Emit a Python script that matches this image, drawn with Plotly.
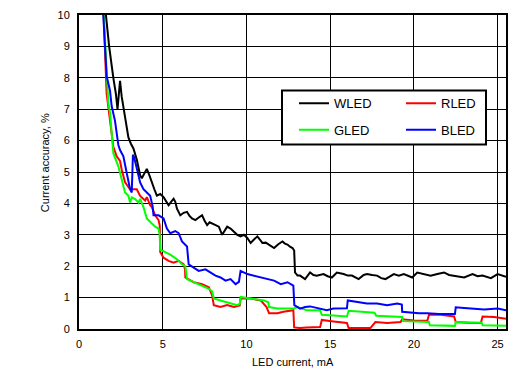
import plotly.graph_objects as go

# ---- data (LED current mA, accuracy %) ----
wled = [(1.55,10.3),(1.6,10.0),(1.8,9.0),(2.05,8.0),(2.2,7.5),(2.3,7.0),(2.38,7.6),(2.45,7.9),(2.55,7.4),(2.75,6.8),
        (2.95,6.1),(3.1,5.9),(3.25,5.75),(3.45,5.4),(3.65,4.9),(3.75,4.8),(3.9,4.95),(4.05,5.1),(4.2,4.9),(4.35,4.65),
        (4.5,4.45),(4.65,4.25),(4.85,4.3),(5.05,4.2),(5.2,4.05),(5.35,3.94),(5.5,4.05),(5.65,4.15),(5.75,4.05),(5.85,3.83),
        (6.05,3.62),(6.25,3.7),(6.45,3.73),(6.6,3.6),(6.75,3.52),(6.95,3.47),(7.15,3.55),(7.35,3.62),(7.5,3.45),(7.65,3.31),
        (7.8,3.4),(7.95,3.36),(8.15,3.3),(8.35,3.26),(8.55,3.0),(8.7,3.15),(8.85,3.26),(9.05,3.2),(9.25,3.1),(9.45,3.0),
        (9.65,2.95),(9.85,3.0),(10.05,2.9),(10.25,2.74),(10.45,2.85),(10.65,2.95),(10.8,2.85),(10.95,2.74),(11.15,2.75),(11.35,2.69),
        (11.5,2.65),(11.65,2.58),(11.9,2.7),(12.15,2.79),(12.3,2.72),(12.45,2.69),(12.6,2.62),(12.75,2.58),(12.85,2.5),(12.9,1.8),
        (13.05,1.7),(13.2,1.7),(13.5,1.59),(13.8,1.8),(14.0,1.72),(14.2,1.7),(14.6,1.75),(14.85,1.68),(15.1,1.64),(15.4,1.8),
        (15.8,1.75),(16.05,1.7),(16.3,1.7),(16.7,1.59),(17.0,1.72),(17.2,1.75),(17.5,1.72),(17.8,1.7),(18.05,1.62),(18.3,1.59),
        (18.8,1.75),(19.1,1.7),(19.4,1.75),(19.9,1.64),(20.2,1.8),(20.6,1.74),(21.0,1.7),(21.4,1.75),(21.8,1.8),(22.1,1.72),
        (22.4,1.7),(23.0,1.64),(23.5,1.75),(23.8,1.68),(24.1,1.7),(24.6,1.62),(25.0,1.75),(25.5,1.66)]

rled = [(1.45,10.3),(1.55,9.2),(1.6,8.2),(1.65,7.5),(1.85,6.63),(1.95,6.2),(2.05,5.8),(2.25,5.5),(2.45,5.35),(2.55,5.08),
        (2.75,4.67),(3.05,4.45),(3.45,4.45),(3.65,4.24),(3.95,4.09),(4.05,4.2),(4.25,3.94),(4.35,3.88),(4.55,3.62),(4.75,3.47),
        (4.82,3.3),(4.85,2.45),(5.05,2.27),(5.35,2.17),(5.65,2.11),(5.95,2.17),(6.25,2.06),(6.33,1.9),(6.35,1.64),(6.85,1.49),
        (7.35,1.43),(7.75,1.33),(7.95,1.07),(8.05,0.76),(8.45,0.7),(8.85,0.76),(9.25,0.7),(9.6,0.75),(9.65,0.97),(10.25,0.97),
        (10.85,0.91),(11.2,0.7),(11.35,0.5),(11.85,0.5),(12.2,0.55),(12.8,0.6),(12.85,0.05),(13.2,0.03),(13.6,0.05),(14.4,0.06),
        (14.5,0.29),(15.2,0.24),(16.0,0.19),(16.1,0.03),(17.4,0.03),(17.7,0.22),(18.4,0.19),(19.2,0.22),(19.3,0.31),(20.0,0.27),
        (20.8,0.26),(20.9,0.45),(21.6,0.45),(22.4,0.4),(22.5,0.22),(23.2,0.2),(24.0,0.19),(24.1,0.4),(24.8,0.38),(25.5,0.33)]

gled = [(1.45,10.3),(1.55,9.3),(1.6,8.57),(1.7,7.73),(1.75,7.2),(1.85,6.9),(1.95,6.33),(2.05,5.6),(2.35,5.18),(2.55,4.76),
        (2.75,4.35),(2.95,4.24),(3.05,4.03),(3.15,4.19),(3.35,4.14),(3.55,4.03),(3.65,4.14),(3.85,3.88),(4.05,3.52),(4.35,3.36),
        (4.55,3.26),(4.75,3.2),(4.82,3.0),(4.85,2.53),(5.05,2.48),(5.45,2.37),(5.85,2.22),(6.15,2.06),(6.35,2.0),(6.45,1.59),
        (6.85,1.49),(7.35,1.38),(7.75,1.28),(7.95,1.2),(8.05,0.97),(8.45,0.91),(9.05,0.81),(9.45,0.76),(9.6,0.8),(9.65,1.02),
        (10.25,0.97),(11.05,0.91),(11.3,0.85),(11.35,0.7),(11.85,0.65),(12.45,0.65),(12.8,0.65),(13.05,0.7),(13.6,0.6),(14.4,0.6),
        (14.5,0.45),(15.2,0.43),(16.0,0.4),(16.1,0.58),(16.9,0.55),(17.65,0.52),(17.75,0.42),(18.5,0.4),(19.3,0.38),(19.35,0.25),
        (20.2,0.24),(20.9,0.22),(20.95,0.12),(21.8,0.1),(22.45,0.1),(22.5,0.22),(23.3,0.2),(24.05,0.2),(24.1,0.12),(24.8,0.1),
        (25.5,0.1)]

bled = [(1.42,10.3),(1.55,9.1),(1.65,8.05),(1.85,7.6),(1.95,7.1),(2.15,6.63),(2.35,5.86),(2.45,5.7),(2.65,5.5),(2.85,4.97),
        (3.05,4.45),(3.15,4.35),(3.22,5.55),(3.3,5.45),(3.45,5.08),(3.65,4.67),(3.85,4.45),(4.05,4.35),(4.25,4.24),(4.4,3.9),
        (4.45,3.62),(4.75,3.62),(5.05,3.52),(5.25,3.2),(5.45,3.05),(5.75,3.12),(5.95,3.05),(6.15,2.79),(6.45,2.63),(6.55,2.06),
        (6.85,1.96),(7.15,1.85),(7.55,1.9),(7.85,1.8),(8.15,1.7),(8.45,1.64),(8.75,1.54),(9.05,1.59),(9.35,1.43),(9.55,1.5),
        (9.65,1.85),(10.05,1.75),(10.45,1.7),(10.85,1.64),(11.25,1.59),(11.65,1.54),(12.05,1.43),(12.45,1.49),(12.8,1.38),(12.86,0.76),
        (13.2,0.65),(13.5,0.7),(13.8,0.72),(14.1,0.68),(14.4,0.65),(14.8,0.6),(15.2,0.65),(15.6,0.65),(16.0,0.66),(16.05,0.91),
        (16.6,0.86),(17.2,0.81),(17.8,0.81),(18.4,0.76),(19.0,0.81),(19.28,0.78),(19.3,0.55),(19.8,0.52),(20.3,0.5),(20.8,0.5),
        (21.5,0.48),(22.45,0.48),(22.5,0.69),(23.0,0.67),(23.4,0.65),(24.2,0.62),(25.0,0.65),(25.5,0.6)]

series_names = ["WLED", "RLED", "GLED", "BLED"]
series_colors = ["#000000", "#ff0000", "#00ff00", "#0000ff"]
series_data = [wled, rled, gled, bled]
legend_ids = ["legend", "legend", "legend2", "legend2"]
draw_order = [1, 2, 3, 0]  # red, green, blue, black on top

x_ticks = [0, 5, 10, 15, 20, 25]
y_ticks = list(range(0, 11))

FONT = "Liberation Sans, Arial, Helvetica, sans-serif"

fig = go.Figure()
for i in draw_order:
    pts = series_data[i]
    fig.add_trace(go.Scatter(
        x=[p[0] for p in pts], y=[p[1] for p in pts], mode="lines",
        name=series_names[i], line=dict(color=series_colors[i], width=2),
        legend=legend_ids[i], legendrank=i + 1,
    ))

W, H = 526, 387
L, T = 79, 9
R = W - 506
B = H - 329
pw, ph = W - L - R, H - T - B

def px_x(px):
    return (px - L) / pw

def px_y(py):
    return (H - B - py) / ph

common_legend = dict(orientation="h", bgcolor="rgba(0,0,0,0)", borderwidth=0,
                     font=dict(family=FONT, size=13, color="#000000"),
                     entrywidth=62, entrywidthmode="pixels",
                     xanchor="left", yanchor="middle", itemwidth=30, tracegroupgap=0)

fig.update_layout(
    width=W, height=H,
    margin=dict(l=L, r=R, t=T, b=B),
    paper_bgcolor="white", plot_bgcolor="white",
    font=dict(family=FONT, size=11, color="#000000"),
    showlegend=True,
    legend=dict(common_legend, x=px_x(294), y=px_y(99)),
    legend2=dict(common_legend, x=px_x(294), y=px_y(126)),
    xaxis=dict(range=[0, 25.5], tickvals=x_ticks, showgrid=True, gridcolor="#000000", gridwidth=1,
               showline=True, linecolor="#000000", linewidth=2, mirror=True, zeroline=False,
               ticks="", ticklabelstandoff=4, tickfont=dict(size=11)),
    yaxis=dict(range=[0, 10], tickvals=y_ticks, showgrid=True, gridcolor="#000000", gridwidth=1,
               showline=True, linecolor="#000000", linewidth=2, mirror=True, zeroline=False,
               ticks="", ticklabelstandoff=5, tickfont=dict(size=11), ticklabeloverflow="allow"),
    shapes=[dict(type="rect", xref="paper", yref="paper",
                 x0=px_x(282), x1=px_x(486), y0=px_y(141), y1=px_y(86),
                 line=dict(color="#000000", width=2), fillcolor="white", layer="above")],
    annotations=[
        dict(text="LED current, mA", xref="paper", yref="paper", x=0.5, y=px_y(363),
             showarrow=False, xanchor="center", yanchor="middle", font=dict(size=11)),
        dict(text="Current accuracy, %", xref="paper", yref="paper", x=px_x(45), y=px_y(160),
             showarrow=False, xanchor="center", yanchor="middle", textangle=-90, font=dict(size=11)),
    ],
)

fig.write_html("out.html", config={"displayModeBar": False},
               post_script="document.body.style.margin='0';")
